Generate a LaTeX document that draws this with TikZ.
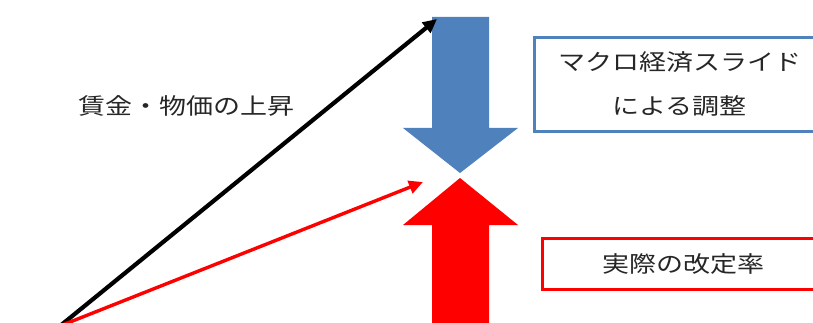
\documentclass[tikz,border=0pt]{standalone}
\usepackage{fontspec}
\newfontfamily\jpfont[FakeStretch=1.2]{Noto Sans CJK JP}
\usepackage{xcolor}
\usetikzlibrary{arrows.meta, positioning}
\definecolor{slideblue}{HTML}{4F81BD}
\definecolor{txtgray}{HTML}{262626}

\begin{document}
\begin{tikzpicture}[
  x=1pt, y=-1pt,
  font=\jpfont\fontsize{22.5}{44}\selectfont, text=txtgray,
  bluebox/.style={rectangle, draw=slideblue, line width=3pt, align=center,
                  minimum width=290pt, minimum height=94pt, anchor=north west},
  redbox/.style={rectangle, draw=red, line width=3pt, align=center,
                 minimum width=282pt, minimum height=51pt, anchor=north west},
  arr/.style={-{Triangle[length=14pt, width=13pt]}}
]
\useasboundingbox (0,0) rectangle (813,323);
\clip (0,0) rectangle (813,323);
%% block arrows
\fill[slideblue] (432,17) -- (489,17) -- (489,128) -- (518,128) -- (460,173)
    -- (403,128) -- (432,128) -- cycle;
\fill[red] (460,178) -- (518,225) -- (489,225) -- (489,330) -- (432,330)
    -- (432,225) -- (403,225) -- cycle;
%% boxes
\node[bluebox] (adj) at (533,36) {マクロ経済スライド\\による調整};
\node[redbox]  (rate) at (541,237) {実際の改定率};
%% label
\node (rise) at (186,106) {賃金・物価の上昇};
%% lines from origin
\coordinate (orig)    at (60,326);
\coordinate (risetip) at (437,19);
\coordinate (revtip)  at (423,182);
\draw[arr, line width=4.2pt] (orig) -- (risetip);
\draw[arr, line width=3.4pt, red] (orig) -- (revtip);
\end{tikzpicture}
\end{document}
